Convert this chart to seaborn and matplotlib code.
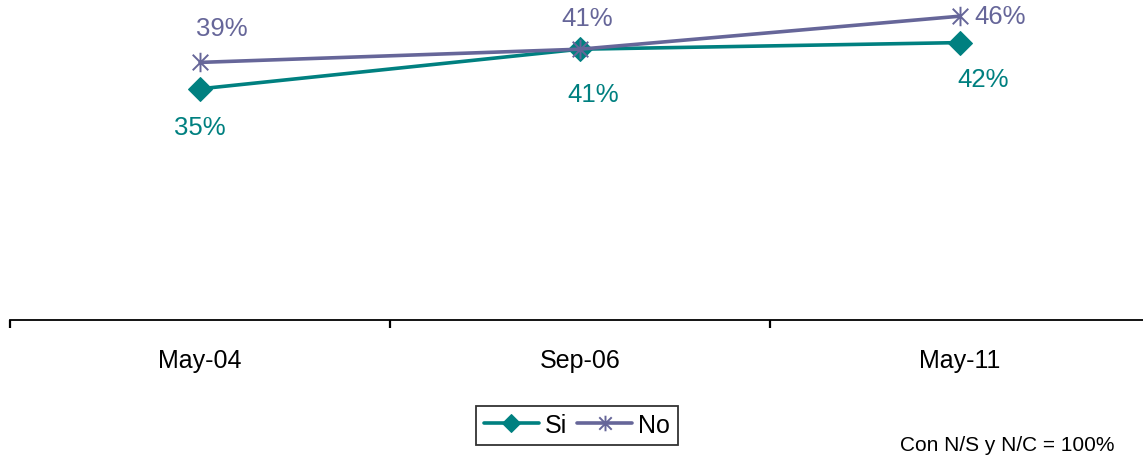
import matplotlib
matplotlib.use("Agg")
import matplotlib.pyplot as plt
from matplotlib.path import Path
import seaborn as sns
import pandas as pd

# datos
fechas = ["May-04", "Sep-06", "May-11"]
si = [35, 41, 42]
no = [39, 41, 46]

color_si = "#008080"
color_no = "#666699"

sns.set_style("white")
plt.rcParams["font.family"] = ["Liberation Sans", "DejaVu Sans"]

# marcador asterisco: X con barra vertical
asterisco = Path([(-1, -1), (1, 1), (-1, 1), (1, -1), (0, -1.25), (0, 1.25)],
                 [Path.MOVETO, Path.LINETO, Path.MOVETO, Path.LINETO,
                  Path.MOVETO, Path.LINETO])

df = pd.DataFrame({"fecha": fechas, "Si": si, "No": no})

fig = plt.figure(figsize=(11.43, 4.56), dpi=100)
# el eje sigue mas alla del borde derecho, como en el original
ax = fig.add_axes([10 / 1143, 1 - 321 / 456, 1140 / 1143, 321 / 456])

sns.lineplot(data=df, x="fecha", y="Si", ax=ax, color=color_si, linewidth=2.6,
             marker="D", markersize=12, markeredgecolor=color_si, label="Si")
sns.lineplot(data=df, x="fecha", y="No", ax=ax, color=color_no, linewidth=2.6,
             marker=asterisco, markersize=14, markeredgewidth=1.4,
             markeredgecolor=color_no, markerfacecolor="none", label="No")

ax.set_xlim(-0.5, 2.5)
ax.set_ylim(0, 48.6)

fs = 18.5
# etiquetas de valores
si_off = [(0, -38), (13, -45), (23, -36)]
no_off = [(22, 34), (7, 31)]
for i, v in enumerate(si):
    ax.annotate(f"{v}%", (i, v), xytext=si_off[i], textcoords="offset pixels",
                ha="center", va="center", color=color_si, fontsize=fs)
for i, v in enumerate(no):
    if i < 2:
        ax.annotate(f"{v}%", (i, v), xytext=no_off[i], textcoords="offset pixels",
                    ha="center", va="center", color=color_no, fontsize=fs)
    else:
        ax.annotate(f"{v}%", (i, v), xytext=(14, 0), textcoords="offset pixels",
                    ha="left", va="center", color=color_no, fontsize=fs)

# ejes
for s in ["top", "right", "left"]:
    ax.spines[s].set_visible(False)
ax.spines["bottom"].set_color("black")
ax.spines["bottom"].set_linewidth(1.3)
ax.set_yticks([])
ax.set_xticks([-0.5, 0.5, 1.5])
ax.set_xticks([0, 1, 2], minor=True)
ax.set_xticklabels([])
ax.set_xticklabels(fechas, minor=True, fontsize=18, color="black")
ax.tick_params(axis="x", which="major", direction="out", length=6, width=1.6,
               color="black", bottom=True)
ax.tick_params(axis="x", which="minor", length=0, pad=20)
ax.set_xlabel("")
ax.set_ylabel("")

ax.get_legend().remove()
h, l = ax.get_legend_handles_labels()
leg = fig.legend(h, l, loc="center", bbox_to_anchor=(577 / 1143, 1 - 426 / 456),
                 ncol=2, fontsize=18, frameon=True, fancybox=False,
                 edgecolor="black", handlelength=2.2, columnspacing=0.4,
                 handletextpad=0.25, borderpad=0.3, borderaxespad=0,
                 markerscale=0.8)
leg.get_frame().set_linewidth(1.3)
for t in leg.get_texts():
    t.set_color("black")

fig.text(1115 / 1143, 1 - 446 / 456, "Con N/S y N/C = 100%", ha="right",
         va="center", fontsize=15, color="black")

fig.savefig("out.png", dpi=100)
plt.close(fig)
